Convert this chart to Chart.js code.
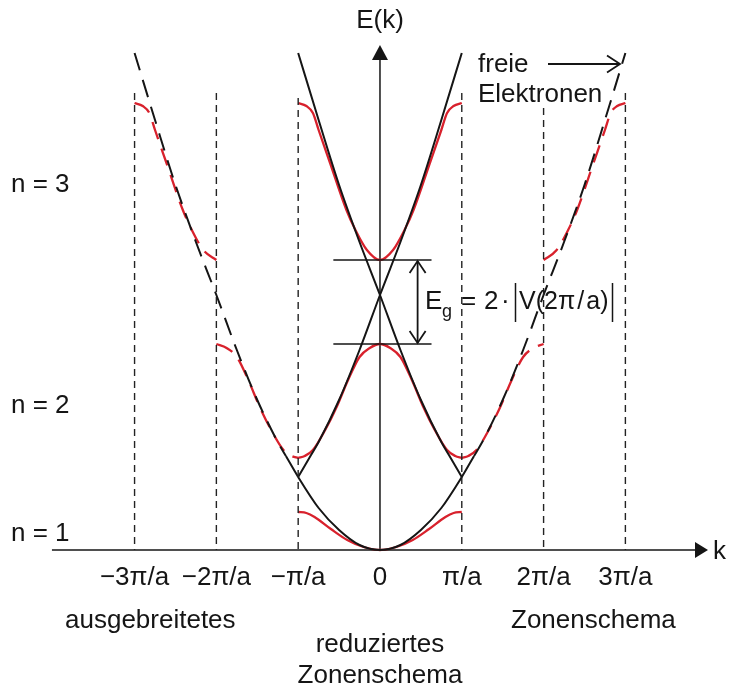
<!DOCTYPE html>
<html>
<head>
<meta charset="utf-8">
<script src="https://cdn.jsdelivr.net/npm/chart.js@4/dist/chart.umd.min.js"></script>
<style>
  html, body { margin: 0; padding: 0; background: #fff; }
  canvas { display: block; }
</style>
</head>
<body>
<canvas id="bands" width="731" height="690"></canvas>
<script>
// Wave number k in units of pi/a, energy E in arbitrary units.
// Free-electron dispersion E(|k|)
const freeD = [0, 0.25, 0.5, 0.75, 1, 1.15, 1.25, 1.5, 1.75, 2, 2.25, 2.5, 2.75, 3];
const freeE = [0, 5, 20, 42, 73, 94, 108, 150, 200, 255, 308, 365, 430, 497];

// Bands in the first Brillouin zone (0 <= k <= pi/a, symmetric in k)
const band1K = [0, 0.2, 0.4, 0.6, 0.8, 0.9, 1];
const band1E = [0, 3, 10, 21, 33, 37, 38];
const band2K = [0, 0.125, 0.25, 0.39, 0.53, 0.67, 0.82, 0.92, 1];
const band2E = [206, 202, 193, 170, 143, 120, 100, 94, 92];
const band3K = [0, 0.16, 0.3, 0.41, 0.61, 0.75, 0.82, 0.9, 1];
const band3E = [290, 300, 320, 340, 387, 420, 437, 444, 447];

// k-axis ticks
const tickValues = [-3, -2, -1, 0, 1, 2, 3];
const tickLabels = ['\u22123\u03C0/a', '\u22122\u03C0/a', '\u2212\u03C0/a', '0', '\u03C0/a', '2\u03C0/a', '3\u03C0/a'];

// Zone boundaries and their heights
const zoneK = [-3, -2, -1, 1, 2, 3];
const zoneTop = [457, 457, 452, 457, 442, 457];

// Band gap at k = 0 between band 2 (top) and band 3 (bottom)
const gapLow = 206;
const gapHigh = 290;

const RED = '#d8212c';
const INK = '#151515';

function mirrored(ks, es) {
  const pts = [];
  for (let i = ks.length - 1; i > 0; i--) pts.push({ x: -ks[i], y: es[i] });
  for (let i = 0; i < ks.length; i++) pts.push({ x: ks[i], y: es[i] });
  return pts;
}
function shifted(pts, dk, lo, hi) {
  return pts.filter(p => p.x >= lo - 1e-9 && p.x <= hi + 1e-9).map(p => ({ x: p.x + dk, y: p.y }));
}
function within(pts, lo, hi) {
  return pts.filter(p => p.x >= lo - 1e-9 && p.x <= hi + 1e-9);
}

const free = mirrored(freeD, freeE);
const b1 = mirrored(band1K, band1E);
const b2 = mirrored(band2K, band2E);
const b3 = mirrored(band3K, band3E);

function curve(data, color, width, dash) {
  return {
    data, showLine: true, pointRadius: 0, pointHoverRadius: 0,
    borderColor: color, borderWidth: width, borderDash: dash || [],
    cubicInterpolationMode: 'monotone', fill: false
  };
}
function straight(data, color, width, dash) {
  return {
    data, showLine: true, pointRadius: 0, pointHoverRadius: 0,
    borderColor: color, borderWidth: width, borderDash: dash || [],
    tension: 0, fill: false
  };
}

const datasets = [];
// zone boundaries
zoneK.forEach((k, i) => datasets.push(straight([{ x: k, y: zoneTop[i] }, { x: k, y: 0 }], '#222', 1.4, [7, 5])));
// gap markers
datasets.push(straight([{ x: -0.57, y: gapHigh }, { x: 0.63, y: gapHigh }], INK, 1.4));
datasets.push(straight([{ x: -0.57, y: gapLow }, { x: 0.63, y: gapLow }], INK, 1.4));
// free electrons: extended scheme (dashed) and reduced scheme (solid)
datasets.push(curve(within(free, -3, -1.15), INK, 2, [18, 10]));
datasets.push(curve(within(free, 1.15, 3), INK, 2, [18, 10]));
datasets.push(curve(within(free, -1.15, 1.15), INK, 2));
datasets.push(curve(shifted(free, -2, 1, 3), INK, 2));
datasets.push(curve(shifted(free, 2, -3, -1), INK, 2));
// bands: extended scheme (dashed)
datasets.push(curve(shifted(b2, -2, 0, 1), RED, 2.3, [18, 10]));
datasets.push(curve(shifted(b2, 2, -1, 0), RED, 2.3, [18, 10]));
datasets.push(curve(shifted(b3, -2, -1, 0), RED, 2.3, [18, 10]));
datasets.push(curve(shifted(b3, 2, 0, 1), RED, 2.3, [18, 10]));
// bands: reduced scheme (solid)
datasets.push(curve(b1, RED, 2.3));
datasets.push(curve(b2, RED, 2.3));
datasets.push(curve(b3, RED, 2.3));

const FONT = '"Liberation Sans", Arial, sans-serif';
const F26 = '26px ' + FONT;

function chevron(ctx, tx, ty, dx, dy, len, half) {
  // open arrow head pointing along (dx, dy) with its tip at (tx, ty)
  const n = Math.hypot(dx, dy); dx /= n; dy /= n;
  const bx = tx - dx * len, by = ty - dy * len;
  ctx.beginPath();
  ctx.moveTo(bx - dy * half, by + dx * half);
  ctx.lineTo(tx, ty);
  ctx.lineTo(bx + dy * half, by - dx * half);
  ctx.stroke();
}
function solidHead(ctx, tx, ty, dx, dy, len, half) {
  const n = Math.hypot(dx, dy); dx /= n; dy /= n;
  const bx = tx - dx * len, by = ty - dy * len;
  ctx.beginPath();
  ctx.moveTo(tx, ty);
  ctx.lineTo(bx - dy * half, by + dx * half);
  ctx.lineTo(bx + dy * half, by - dx * half);
  ctx.closePath();
  ctx.fill();
}

const decor = {
  id: 'decor',
  beforeDatasetsDraw(chart) {
    const { ctx, scales: { x, y } } = chart;
    const px = v => x.getPixelForValue(v), py = v => y.getPixelForValue(v);
    ctx.save();
    ctx.strokeStyle = INK; ctx.fillStyle = INK; ctx.lineWidth = 1.5;
    // k axis
    const xl = px(-4.01), xr = px(4.01), y0 = py(0);
    ctx.beginPath(); ctx.moveTo(xl, y0); ctx.lineTo(xr - 10, y0); ctx.stroke();
    solidHead(ctx, xr, y0, 1, 0, 13, 8);
    // E axis
    const x0 = px(0), yt = py(505);
    ctx.beginPath(); ctx.moveTo(x0, y0); ctx.lineTo(x0, yt + 10); ctx.stroke();
    solidHead(ctx, x0, yt, 0, -1, 15, 8);
    ctx.restore();
  },
  afterDatasetsDraw(chart) {
    const { ctx, scales: { x, y } } = chart;
    const px = v => x.getPixelForValue(v), py = v => y.getPixelForValue(v);
    ctx.save();
    ctx.fillStyle = INK; ctx.strokeStyle = INK;
    ctx.textBaseline = 'alphabetic';
    ctx.font = F26;

    // axis titles
    ctx.textAlign = 'center';
    ctx.fillText('E(k)', px(0), 28);
    ctx.textAlign = 'left';
    ctx.fillText('k', 713, py(0) + 9);

    // tick labels
    ctx.textAlign = 'center';
    tickValues.forEach((v, i) => ctx.fillText(tickLabels[i], px(v), 585));

    // band indices
    ctx.textAlign = 'left';
    ctx.fillText('n = 3', 11, 192);
    ctx.fillText('n = 2', 11, 413);
    ctx.fillText('n = 1', 11, 541);

    // scheme names
    ctx.fillText('ausgebreitetes', 65, 628);
    ctx.fillText('Zonenschema', 511, 628);
    ctx.textAlign = 'center';
    ctx.fillText('reduziertes', px(0), 652);
    ctx.fillText('Zonenschema', px(0), 683);

    // free-electron label with arrow
    ctx.textAlign = 'left';
    ctx.fillText('freie', 478, 72);
    ctx.fillText('Elektronen', 478, 102);
    ctx.lineWidth = 1.8;
    ctx.beginPath(); ctx.moveTo(548, 64); ctx.lineTo(619, 64); ctx.stroke();
    chevron(ctx, 620, 64, 1, 0, 13, 8.5);

    // band-gap double arrow
    const ax = px(0.46), ya = py(gapHigh), yb = py(gapLow);
    ctx.lineWidth = 1.8;
    ctx.beginPath(); ctx.moveTo(ax, ya + 1); ctx.lineTo(ax, yb - 1); ctx.stroke();
    chevron(ctx, ax, ya + 1, 0, -1, 12, 8);
    chevron(ctx, ax, yb - 1, 0, 1, 12, 8);

    // gap formula
    ctx.fillText('E', 425, 309);
    ctx.font = '18px ' + FONT;
    ctx.fillText('g', 442, 317);
    ctx.font = F26;
    ctx.fillText('=', 461, 309);
    ctx.fillText('2', 484, 309);
    ctx.fillText('\u00B7', 501, 309);
    ctx.font = '25px ' + FONT;
    const inner = 'V(2\u03C0\u200A/\u200Aa)';
    ctx.fillText(inner, 519, 309);
    const end = 519 + ctx.measureText(inner).width;
    ctx.lineWidth = 1.5;
    ctx.beginPath(); ctx.moveTo(515.5, 283); ctx.lineTo(515.5, 322); ctx.stroke();
    ctx.beginPath(); ctx.moveTo(end + 4, 283); ctx.lineTo(end + 4, 322); ctx.stroke();
    ctx.restore();
  }
};

new Chart(document.getElementById('bands'), {
  type: 'scatter',
  data: { datasets },
  options: {
    responsive: false,
    animation: false,
    devicePixelRatio: 1,
    layout: { padding: 0 },
    plugins: { legend: { display: false }, tooltip: { enabled: false } },
    scales: {
      x: { type: 'linear', display: false, min: -4.645, max: 4.291 },
      y: { type: 'linear', display: false, min: -140, max: 550 }
    }
  },
  plugins: [decor]
});
</script>
</body>
</html>
